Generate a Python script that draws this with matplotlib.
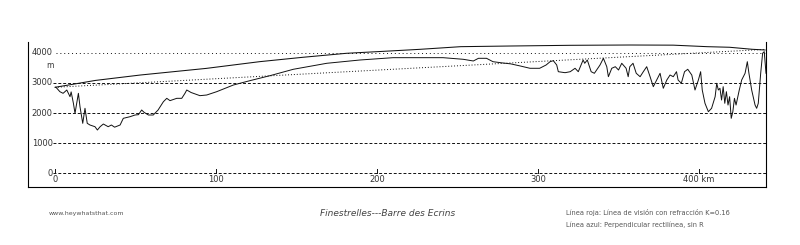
import matplotlib
matplotlib.use("Agg")
import matplotlib.pyplot as plt

# ---- data ----
terrain_km = [0.6, 3, 5, 7.3, 9.3, 10, 11.4, 12.4, 14.5, 15.5, 17.2, 18.6, 20, 21.7, 24.8, 26.3,
              28, 30, 33, 35, 37, 40.4, 42.4, 46.6, 49.7, 51.8, 53.8, 55.3, 58, 61, 64, 67.3,
              69.4, 71.4, 75.6, 78.7, 80.7, 81.8, 84.5, 90, 94.2, 100.4, 110.8, 121, 133.5, 148,
              168.8, 189.4, 210, 241, 253.6, 259.8, 263, 268, 272, 278, 283, 289, 295, 301,
              305, 307.5, 309.5, 311.6, 312.6, 316.8, 320, 323, 325, 328, 329, 330.6, 333, 335,
              338.5, 340.6, 342.7, 343.7, 345.8, 348, 350, 352, 354.7, 356, 357, 359, 361,
              363.4, 365.4, 367.5, 369.6, 371.6, 373.7, 375.8, 377.8, 380, 382, 384, 386, 387,
              389, 391, 393, 395.5, 397.5, 399.6, 401, 402, 403.7, 405.8, 407.8, 410, 411, 412,
              413, 414, 415, 416, 417, 418, 419, 420, 421, 422, 423, 425, 426.5, 428.6, 430,
              431, 432.7, 434.8, 435.8, 436.8, 438.3, 439.5, 440.5, 441.6]
terrain_elev = [2852, 2707, 2653, 2763, 2541, 2700, 2322, 1990, 2653, 2209, 1658, 2156, 1658, 1602,
                1546, 1436, 1546, 1635, 1546, 1602, 1530, 1602, 1824, 1878, 1934, 1945, 2100,
                2022, 1934, 1934, 2100, 2375, 2487, 2410, 2487, 2487, 2653, 2763, 2680, 2575,
                2597, 2707, 2929, 3072, 3238, 3450, 3649, 3758, 3835, 3835, 3781, 3725, 3814,
                3814, 3702, 3660, 3630, 3559, 3483, 3483, 3592, 3702, 3735, 3592, 3370, 3337,
                3370, 3483, 3370, 3758, 3649, 3758, 3370, 3317, 3592, 3814, 3536, 3204, 3483,
                3536, 3426, 3649, 3483, 3204, 3536, 3649, 3317, 3204, 3370, 3536, 3204, 2873,
                3095, 3317, 2820, 3095, 3260, 3204, 3370, 3095, 2985, 3370, 3450, 3260, 2763,
                3095, 3370, 2763, 2322, 2043, 2156, 2541, 2985, 2763, 2820, 2431, 2873, 2322,
                2707, 2265, 2541, 1824, 2043, 2487, 2265, 2763, 3095, 3317, 3702, 3317, 2763,
                2265, 2156, 2322, 3317, 3980, 4036, 3317]

# refracted line of sight (upper solid curve)
refr_km = [0, 25, 53, 94, 127, 154, 181, 208, 227, 252, 283, 320, 357, 384, 405, 419, 433, 441]
refr_elev = [2852, 3080, 3260, 3480, 3702, 3848, 3980, 4057, 4113, 4200, 4222, 4245, 4255, 4250,
             4200, 4180, 4113, 4090]

# straight line of sight (dotted)
los_km = [0, 441]
los_elev = [2852, 4110]

grid_levels = [0, 1000, 2000, 3000, 4000]
y_labels = ["0", "1000", "2000", "3000", "4000"]
x_ticks = [0, 100, 200, 300, 400]
x_labels = ["0", "100", "200", "300", "400 km"]

title = "Finestrelles---Barre des Ecrins"
site = "www.heywhatsthat.com"
legend1 = "Línea roja: Línea de visión con refracción K=0.16"
legend2 = "Línea azul: Perpendicular rectilínea, sin R"

# ---- drawing ----
fig = plt.figure(figsize=(8, 2.45), dpi=100)
ax = fig.add_axes([0.035, 0.2367, 0.9225, 0.5919])
ax.set_xlim(-16.8, 441.6)
ax.set_ylim(-454, 4355)

for lvl in grid_levels:
    if lvl == 4000:
        ax.plot([0.5, 441.6], [lvl, lvl], color="#111111", lw=0.7, ls=(0, (1, 3)))
    else:
        ax.plot([-1, 441.6], [lvl, lvl], color="#111111", lw=0.7, ls=(0, (3, 2)))

for lvl, lab in zip(grid_levels, y_labels):
    ax.text(-1.5, lvl, lab, ha="right", va="center", fontsize=6, color="#333333")

ax.text(-3, 3560, "m", ha="center", va="center", fontsize=5.5, color="#333333")

for t, lab in zip(x_ticks, x_labels):
    ax.plot([t, t], [0, 130], color="#111111", lw=0.7)
    ax.text(t, -200, lab, ha="center", va="center", fontsize=6, color="#333333")

ax.plot(los_km, los_elev, color="#111111", lw=0.7, ls=(0, (1, 2)))
ax.plot(refr_km, refr_elev, color="#111111", lw=0.75)
ax.plot(terrain_km, terrain_elev, color="#111111", lw=0.7)

ax.spines["top"].set_visible(False)
for s in ["left", "bottom", "right"]:
    ax.spines[s].set_linewidth(0.8)
ax.set_xticks([])
ax.set_yticks([])

fig.text(86 / 800, 1 - 213 / 245, site, ha="center", va="center", fontsize=4.5, color="#555555")
fig.text(388 / 800, 1 - 213 / 245, title, ha="center", va="center", fontsize=6.5,
         style="italic", color="#444444")
fig.text(566 / 800, 1 - 212 / 245, legend1, ha="left", va="center", fontsize=4.8, color="#555555")
fig.text(566 / 800, 1 - 225 / 245, legend2, ha="left", va="center", fontsize=4.8, color="#555555")

fig.savefig("out.png", dpi=100)
